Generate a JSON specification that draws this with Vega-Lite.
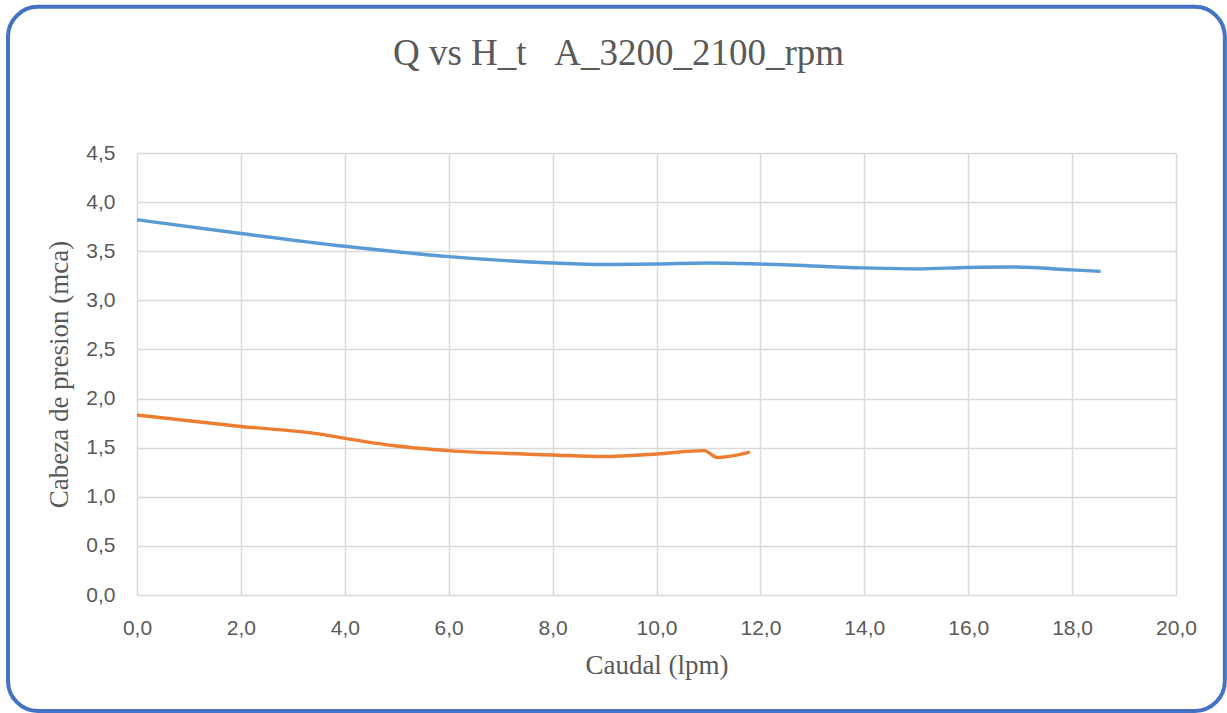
{
  "$schema": "https://vega.github.io/schema/vega-lite/v6.json",
  "width": 1039,
  "height": 442,
  "autosize": {"type": "none"},
  "padding": {"left": 137, "top": 153, "right": 51, "bottom": 118},
  "background": "white",
  "title": {
    "text": "Q vs H_t\u00a0\u00a0\u00a0A_3200_2100_rpm",
    "font": "Liberation Serif",
    "fontSize": 37,
    "fontWeight": "normal",
    "color": "#595959",
    "anchor": "middle",
    "baseline": "alphabetic",
    "dx": -38,
    "offset": -97
  },
  "config": {
    "view": {"stroke": null},
    "axis": {
      "grid": true,
      "gridColor": "#D9D9D9",
      "gridWidth": 1.5,
      "domain": false,
      "ticks": false,
      "labelFont": "Liberation Sans",
      "labelFontSize": 21,
      "labelColor": "#595959",
      "labelPadding": 22,
      "labelFlush": false,
      "titleFont": "Liberation Serif",
      "titleFontSize": 27,
      "titleFontWeight": "normal",
      "titleColor": "#595959"
    }
  },
  "datasets": {
    "curves": [
      {"serie": "A", "q": 0, "h": 3.82},
      {"serie": "A", "q": 2, "h": 3.68},
      {"serie": "A", "q": 4, "h": 3.55},
      {"serie": "A", "q": 6, "h": 3.445},
      {"serie": "A", "q": 8, "h": 3.38},
      {"serie": "A", "q": 9, "h": 3.365},
      {"serie": "A", "q": 10, "h": 3.37},
      {"serie": "A", "q": 11, "h": 3.38},
      {"serie": "A", "q": 12, "h": 3.37},
      {"serie": "A", "q": 14, "h": 3.33},
      {"serie": "A", "q": 15, "h": 3.32},
      {"serie": "A", "q": 16, "h": 3.335},
      {"serie": "A", "q": 16.8, "h": 3.34},
      {"serie": "A", "q": 18, "h": 3.31},
      {"serie": "A", "q": 18.55, "h": 3.295},
      {"serie": "B", "q": 0, "h": 1.833},
      {"serie": "B", "q": 2, "h": 1.716},
      {"serie": "B", "q": 3.5, "h": 1.64},
      {"serie": "B", "q": 4, "h": 1.595},
      {"serie": "B", "q": 5, "h": 1.517},
      {"serie": "B", "q": 6, "h": 1.47},
      {"serie": "B", "q": 8, "h": 1.426},
      {"serie": "B", "q": 9, "h": 1.41},
      {"serie": "B", "q": 10, "h": 1.436},
      {"serie": "B", "q": 10.92, "h": 1.47},
      {"serie": "B", "q": 11.17, "h": 1.40},
      {"serie": "B", "q": 11.8, "h": 1.455}
    ],
    "frame": [
      {"x1": -2.483, "x2": 20.94, "y1": 5.988, "y2": -1.181}
    ]
  },
  "layer": [
    {
      "data": {"name": "frame"},
      "mark": {"type": "rect", "fill": null, "stroke": "#4472C4", "strokeWidth": 4, "cornerRadius": 30, "clip": false},
      "encoding": {
        "x": {"field": "x1", "type": "quantitative", "scale": {"domain": [0, 20], "nice": false, "zero": false}},
        "x2": {"field": "x2"},
        "y": {"field": "y1", "type": "quantitative", "scale": {"domain": [0, 4.5], "nice": false, "zero": false}},
        "y2": {"field": "y2"}
      }
    },
    {
      "data": {"name": "curves"},
      "mark": {"type": "line", "interpolate": "monotone", "strokeWidth": 3.4},
      "encoding": {
        "x": {
          "field": "q", "type": "quantitative",
          "scale": {"domain": [0, 20], "nice": false, "zero": false},
          "axis": {
            "title": "Caudal (lpm)",
            "values": [0, 2, 4, 6, 8, 10, 12, 14, 16, 18, 20],
            "labelExpr": "replace(format(datum.value, '.1f'), '.', ',')",
            "titlePadding": 14
          }
        },
        "y": {
          "field": "h", "type": "quantitative",
          "scale": {"domain": [0, 4.5], "nice": false, "zero": false},
          "axis": {
            "title": "Cabeza de presion (mca)",
            "values": [0, 0.5, 1, 1.5, 2, 2.5, 3, 3.5, 4, 4.5],
            "labelExpr": "replace(format(datum.value, '.1f'), '.', ',')",
            "titlePadding": 12
          }
        },
        "color": {
          "field": "serie", "type": "nominal",
          "scale": {"domain": ["A", "B"], "range": ["#5B9BD5", "#ED7D31"]},
          "legend": null
        }
      }
    }
  ]
}
